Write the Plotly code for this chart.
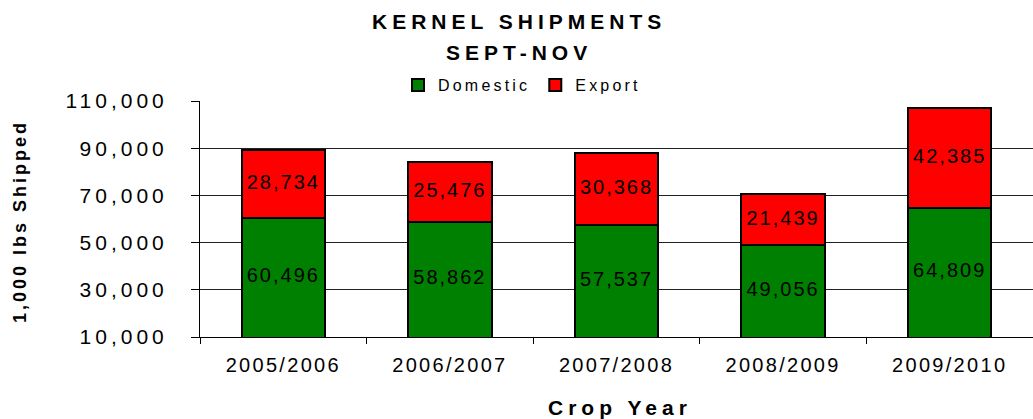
import plotly.graph_objects as go

years = ["2005/2006", "2006/2007", "2007/2008", "2008/2009", "2009/2010"]
domestic = [60496, 58862, 57537, 49056, 64809]
export = [28734, 25476, 30368, 21439, 42385]
y_ticks = [10000, 30000, 50000, 70000, 90000, 110000]
y_range = [10000, 110000]

FONT = "Liberation Sans, Arial, sans-serif"
W, H = 1033, 419
L, R, T, B = 200, 0, 101, 82
PW, PH = W - L - R, H - T - B


def px_x(px):
    return (px - L) / PW


def px_y(py):
    return (H - B - py) / PH


def sp(text, px):
    """wrap text in a letter-spaced span (the original uses wide tracking)"""
    return f'<span style="letter-spacing:{px}px">{text}</span>'


fig = go.Figure()
fig.add_trace(go.Bar(
    x=years, y=domestic, name=sp("Domestic", 3.2),
    marker=dict(color="#008000", line=dict(color="#000000", width=2)),
    width=0.5, hoverinfo="skip",
))
fig.add_trace(go.Bar(
    x=years, y=export, name=sp("Export", 3.2),
    marker=dict(color="#FF0000", line=dict(color="#000000", width=2)),
    width=0.5, hoverinfo="skip",
))
# value labels, centred on the visible part of each segment
dom_mid = [(max(y_range[0], 0) + d) / 2 for d in domestic]
exp_mid = [d + e / 2 for d, e in zip(domestic, export)]
fig.add_trace(go.Scatter(
    x=years + years, y=dom_mid + exp_mid, mode="text",
    text=[sp(f"{v:,}", 2) for v in domestic + export],
    textposition="middle center",
    textfont=dict(family=FONT, size=20, color="#000000"),
    showlegend=False, hoverinfo="skip", cliponaxis=False,
))

fig.update_layout(
    barmode="stack",
    width=W, height=H,
    margin=dict(l=L, r=R, t=T, b=B, autoexpand=False),
    paper_bgcolor="white", plot_bgcolor="white",
    font=dict(family=FONT, color="#000000"),
    legend=dict(orientation="h", x=px_x(398), xanchor="left",
                y=px_y(85), yanchor="middle",
                font=dict(size=16, family=FONT), bgcolor="rgba(0,0,0,0)",
                traceorder="normal", itemwidth=30),
    showlegend=True,
)
fig.update_xaxes(
    tickvals=years, ticktext=[sp(y, 2.3) for y in years],
    showline=True, linecolor="#000000", linewidth=1,
    ticks="outside", tickson="boundaries", ticklen=6, tickcolor="#000000",
    tickfont=dict(size=20, family=FONT),
    ticklabelstandoff=10,
    showgrid=False,
)
fig.update_yaxes(
    range=y_range, tickvals=y_ticks,
    ticktext=[sp(f"{v:,}", 4) for v in y_ticks],
    showline=True, linecolor="#000000", linewidth=1,
    ticks="outside", ticklen=8, tickcolor="#000000",
    ticklabelstandoff=19,
    showgrid=True, gridcolor="#222222", gridwidth=1,
    tickfont=dict(size=21, family=FONT),
    zeroline=False,
)
# white band behind legend (covers the top gridline like the original legend box)
fig.add_shape(type="rect", xref="paper", yref="paper",
              x0=px_x(410), x1=px_x(657), y0=px_y(105), y1=px_y(97),
              fillcolor="white", line=dict(width=0), layer="above")
ann = dict(xref="paper", yref="paper", showarrow=False, xanchor="center", yanchor="middle")
fig.add_annotation(text=sp("<b>1,000 lbs Shipped</b>", 3),
                   x=px_x(20), y=px_y(222), textangle=-90,
                   font=dict(size=18, family=FONT), **ann)
fig.add_annotation(text=sp("<b>KERNEL SHIPMENTS</b>", 5),
                   x=px_x(519), y=px_y(21),
                   font=dict(size=21, family=FONT), **ann)
fig.add_annotation(text=sp("<b>SEPT-NOV</b>", 5),
                   x=px_x(519), y=px_y(52),
                   font=dict(size=21, family=FONT), **ann)
fig.add_annotation(text=sp("<b>Crop Year</b>", 5),
                   x=px_x(620), y=px_y(407),
                   font=dict(size=21, family=FONT), **ann)

post = "document.body.style.margin = '0'; document.body.style.overflow = 'hidden';"

fig.write_html("out.html", post_script=post, config={"displayModeBar": False})
